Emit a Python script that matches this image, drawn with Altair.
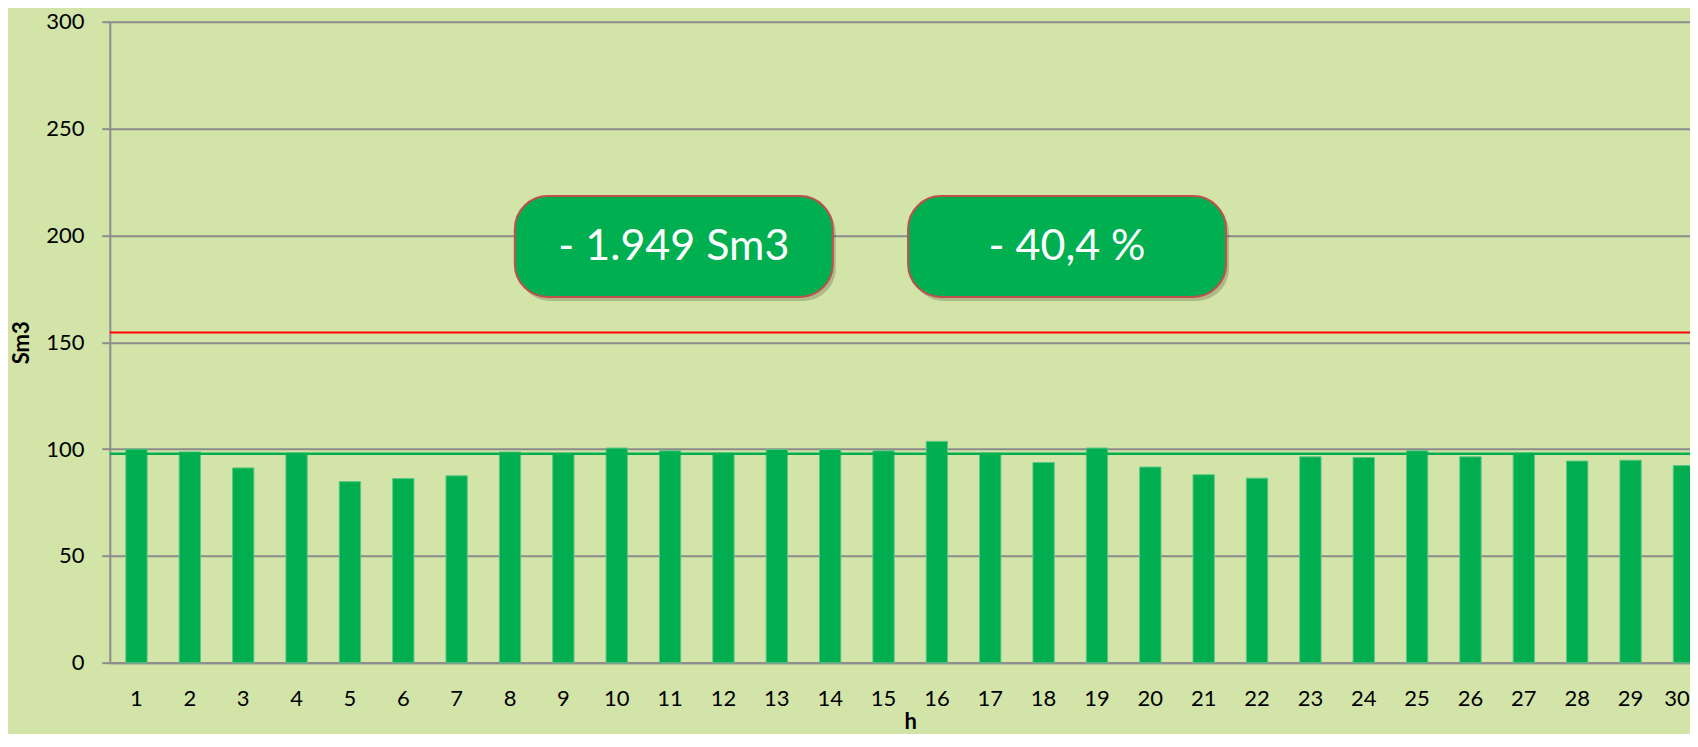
import altair as alt
import pandas as pd

# ---- data ----
hours = list(range(1, 31))
sm3 = [100.0, 98.7, 91.2, 98.1, 84.8, 86.2, 87.5, 98.6, 97.8, 100.5,
       99.2, 98.1, 99.8, 99.8, 99.2, 103.6, 98.1, 93.7, 100.5, 91.6,
       88.0, 86.4, 96.4, 96.1, 99.2, 96.4, 98.1, 94.4, 94.8, 92.3]
reference_level = [154.6]
average_level = [97.8]

box_labels = ["- 1.949 Sm3", "- 40,4 %"]
box_x_start = [8.09, 15.46]
box_x_end = [14.05, 21.42]
box_y_low = [171.2, 171.2]
box_y_high = [218.4, 218.4]

y_ticks = [0, 50, 100, 150, 200, 250, 300]

# ---- styling ----
BG = "#D3E4A8"
GREEN = "#00AE50"
GRID = "#8C8C8C"
FONT = "Lato"
W = 1580.2
H = 641.1
BAND_RANGE = [0, 1600.8]

bars_df = pd.DataFrame({"h": hours, "Sm3": sm3})
ref_df = pd.DataFrame({"level": reference_level})
avg_df = pd.DataFrame({"level": average_level})
boxes_df = pd.DataFrame({
    "label": box_labels,
    "x0": box_x_start,
    "x1": box_x_end,
    "y0": box_y_low,
    "y1": box_y_high,
})
boxes_df["xc"] = (boxes_df["x0"] + boxes_df["x1"]) / 2
boxes_df["yc"] = (boxes_df["y0"] + boxes_df["y1"]) / 2

yscale = alt.Scale(domain=[0, 300], nice=False)
y_axis = alt.Axis(
    values=y_ticks,
    grid=True,
    ticks=True,
    tickSize=8,
    labelPadding=17.7,
    titleX=-88,
    titleBaseline="middle",
    titleFontWeight="bold",
)

bars = alt.Chart(bars_df).mark_bar(
    color=GREEN, stroke="#5CC886", strokeWidth=1
).encode(
    x=alt.X(
        "h:O",
        title="h",
        sort=hours,
        scale=alt.Scale(range=BAND_RANGE, paddingInner=0.6, paddingOuter=0.3),
        axis=alt.Axis(
            labelAngle=0,
            ticks=False,
            grid=False,
            labelPadding=43,
            labelBaseline="alphabetic",
            labelOffset={"condition": {"test": "datum.label == '30'", "value": -7}, "value": 0},
            titleY=66,
            titleBaseline="alphabetic",
            titleFontWeight="bold",
        ),
    ),
    y=alt.Y("Sm3:Q", title="Sm3", scale=yscale, axis=y_axis),
)

ref_rule = alt.Chart(ref_df).mark_rule(color="#FF0000", strokeWidth=2).encode(
    y=alt.Y("level:Q", title="Sm3", scale=yscale, axis=y_axis)
)
avg_rule = alt.Chart(avg_df).mark_rule(color="#00B050", strokeWidth=2.5).encode(
    y=alt.Y("level:Q", title="Sm3", scale=yscale, axis=y_axis)
)

xq = alt.Scale(domain=[0.5, 30.5], range=BAND_RANGE, nice=False, zero=False)

shadow = alt.Chart(boxes_df).mark_rect(
    cornerRadius=33, color="black", opacity=0.18,
    xOffset=3, x2Offset=3, yOffset=4, y2Offset=4,
).encode(
    x=alt.X("x0:Q", scale=xq, axis=None),
    x2="x1:Q",
    y=alt.Y("y0:Q", title="Sm3", scale=yscale, axis=y_axis),
    y2="y1:Q",
)

boxes = alt.Chart(boxes_df).mark_rect(
    cornerRadius=33, fill="#00B050", stroke="#C0504D", strokeWidth=2
).encode(
    x=alt.X("x0:Q", scale=xq, axis=None),
    x2="x1:Q",
    y=alt.Y("y0:Q", title="Sm3", scale=yscale, axis=y_axis),
    y2="y1:Q",
)

labels = alt.Chart(boxes_df).mark_text(
    font=FONT, fontSize=43, color="white", align="center", baseline="middle"
).encode(
    x=alt.X("xc:Q", scale=xq, axis=None),
    y=alt.Y("yc:Q", title="Sm3", scale=yscale, axis=y_axis),
    text="label:N",
)

chart = alt.layer(
    bars, ref_rule, avg_rule, shadow, boxes, labels
).resolve_scale(
    x="independent"
).properties(
    width=W,
    height=H,
    autosize=alt.AutoSizeParams(type="none"),
    padding={"left": 101.8, "top": 13.7, "right": 0, "bottom": 71},
    background=BG,
).configure_view(
    stroke=None
).configure_axis(
    labelFont=FONT,
    titleFont=FONT,
    labelFontSize=22,
    titleFontSize=22,
    labelColor="black",
    titleColor="black",
    domainColor=GRID,
    domainWidth=2,
    gridColor=GRID,
    gridWidth=2,
    gridOpacity=1,
    tickColor=GRID,
    tickWidth=2,
)

chart.save("out.html", embed_options={"renderer": "svg", "actions": False})
